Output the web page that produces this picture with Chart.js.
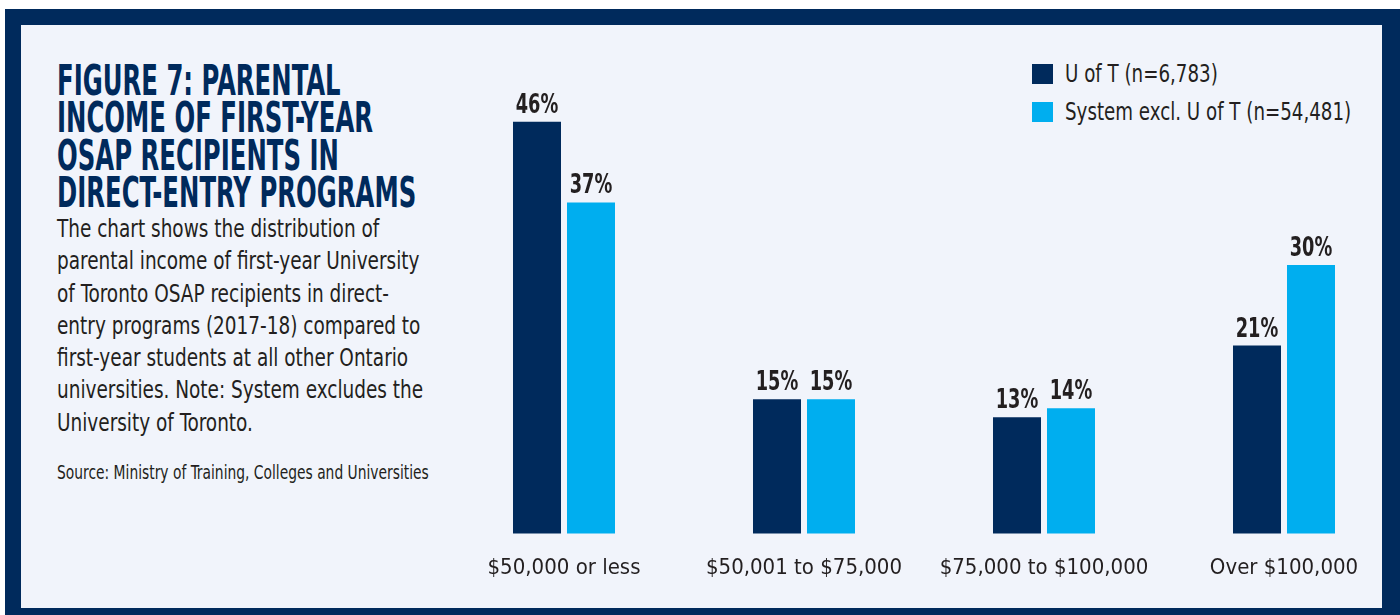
<!doctype html>
<html>

<head>
  <title>Figure 7: Parental income of first-year OSAP recipients</title>
  <script src="https://cdn.jsdelivr.net/npm/chart.js@4.4.1/dist/chart.umd.min.js"></script>
  <style>
    html, body {
      margin: 0;
      padding: 0;
      background: #ffffff;
      overflow: hidden;
    }
    .frame {
      position: absolute;
      left: 5px;
      top: 9px;
      width: 1361px;
      height: 583px;
      border-style: solid;
      border-color: #002a5c;
      border-width: 16px 18px 16px 16px;
      background: #f1f4fb;
    }
    .txt {
      position: absolute;
      white-space: nowrap;
      transform-origin: 0 0;
      font-family: "Liberation Sans Narrow", "DejaVu Sans Condensed", sans-serif;
    }
    .title {
      left: 57px;
      top: 62px;
      font-size: 42px;
      line-height: 37.3px;
      font-weight: bold;
      color: #002a5c;
      transform: scaleX(0.645);
    }
    .desc {
      left: 57px;
      top: 213px;
      font-size: 24px;
      line-height: 32.3px;
      color: #231f20;
      transform: scaleX(0.855);
    }
    .source {
      left: 57px;
      top: 461px;
      font-size: 19px;
      line-height: 22px;
      color: #231f20;
      transform: scaleX(0.81);
    }
    .legend .row {
      position: absolute;
      left: 1032px;
      height: 20px;
      white-space: nowrap;
    }
    .legend .box {
      position: absolute;
      left: 0;
      top: 0;
      width: 21px;
      height: 20px;
    }
    .legend .lab {
      position: absolute;
      left: 33px;
      top: -5px;
      font-family: "Liberation Sans Narrow", "DejaVu Sans Condensed", sans-serif;
      font-size: 24px;
      line-height: 30px;
      color: #231f20;
      transform-origin: 0 0;
      transform: scaleX(0.845);
    }
    #wrap {
      position: absolute;
      left: 0;
      top: 0;
      width: 1400px;
      height: 615px;
    }
  </style>
</head>

<body>
  <div class="frame"></div>
  <div class="txt title">FIGURE 7: PARENTAL<br>INCOME OF FIRST-YEAR<br>OSAP RECIPIENTS IN<br>DIRECT-ENTRY PROGRAMS</div>
  <div class="txt desc">The chart shows the distribution of<br>parental income of first-year University<br>of Toronto OSAP recipients in direct-<br>entry programs (2017-18) compared to<br>first-year students at all other Ontario<br>universities. Note: System excludes the<br>University of Toronto.</div>
  <div class="txt source">Source: Ministry of Training, Colleges and Universities</div>
  <div class="legend" id="legend"></div>
  <div id="wrap">
    <canvas id="myChart" width="1400" height="615"></canvas>
  </div>

  <script>
    var categories = ['$50,000 or less', '$50,001 to $75,000', '$75,000 to $100,000', 'Over $100,000'];
    var uoftValues = [46, 15, 13, 21];
    var systemValues = [37, 15, 14, 30];
    var seriesNames = ['U of T (n=6,783)', 'System excl. U of T (n=54,481)'];
    var seriesColors = ['#002a5c', '#00aeef'];

    var FONT = '"Liberation Sans Narrow", "DejaVu Sans Condensed", sans-serif';

    // legend built from the series names and colours
    var legend = document.getElementById('legend');
    seriesNames.forEach(function(name, i) {
      var row = document.createElement('div');
      row.className = 'row';
      row.style.top = (64 + i * 38) + 'px';
      row.innerHTML = '<div class="box" style="background:' + seriesColors[i] + '"></div>' +
        '<div class="lab"></div>';
      row.querySelector('.lab').textContent = name;
      legend.appendChild(row);
    });

    // percentage above each bar, squeezed to look like the condensed face
    var valueLabels = {
      id: 'valueLabels',
      afterDatasetsDraw: function(chart) {
        var ctx = chart.ctx;
        chart.data.datasets.forEach(function(ds, i) {
          chart.getDatasetMeta(i).data.forEach(function(bar, j) {
            ctx.save();
            ctx.translate(bar.x, bar.y - 9);
            ctx.scale(0.76, 1);
            ctx.font = 'bold 26px ' + FONT;
            ctx.fillStyle = '#231f20';
            ctx.textAlign = 'center';
            ctx.textBaseline = 'alphabetic';
            ctx.fillText(ds.data[j] + '%', 0, 0);
            ctx.restore();
          });
        });
      }
    };

    var config = {
      type: 'bar',
      data: {
        labels: categories,
        datasets: [{
          label: seriesNames[0],
          data: uoftValues,
          backgroundColor: seriesColors[0],
          clip: false
        }, {
          label: seriesNames[1],
          data: systemValues,
          backgroundColor: seriesColors[1],
          clip: false
        }]
      },
      options: {
        responsive: false,
        animation: false,
        categoryPercentage: 0.45,
        barPercentage: 0.8889,
        layout: {
          padding: {
            left: 564,
            right: 116,
            top: 86,
            bottom: 21
          }
        },
        scales: {
          x: {
            offset: false,
            grid: {
              display: false
            },
            border: {
              display: false
            },
            ticks: {
              padding: 13,
              maxRotation: 0,
              minRotation: 0,
              autoSkip: false,
              color: '#231f20',
              font: {
                family: FONT,
                size: 22
              }
            }
          },
          y: {
            display: false,
            min: 0,
            max: 50
          }
        },
        plugins: {
          legend: {
            display: false
          },
          tooltip: {
            enabled: false
          }
        }
      },
      plugins: [valueLabels]
    };

    window.onload = function() {
      var ctx = document.getElementById('myChart').getContext('2d');
      window.myChart = new Chart(ctx, config);
    };
  </script>
</body>

</html>
